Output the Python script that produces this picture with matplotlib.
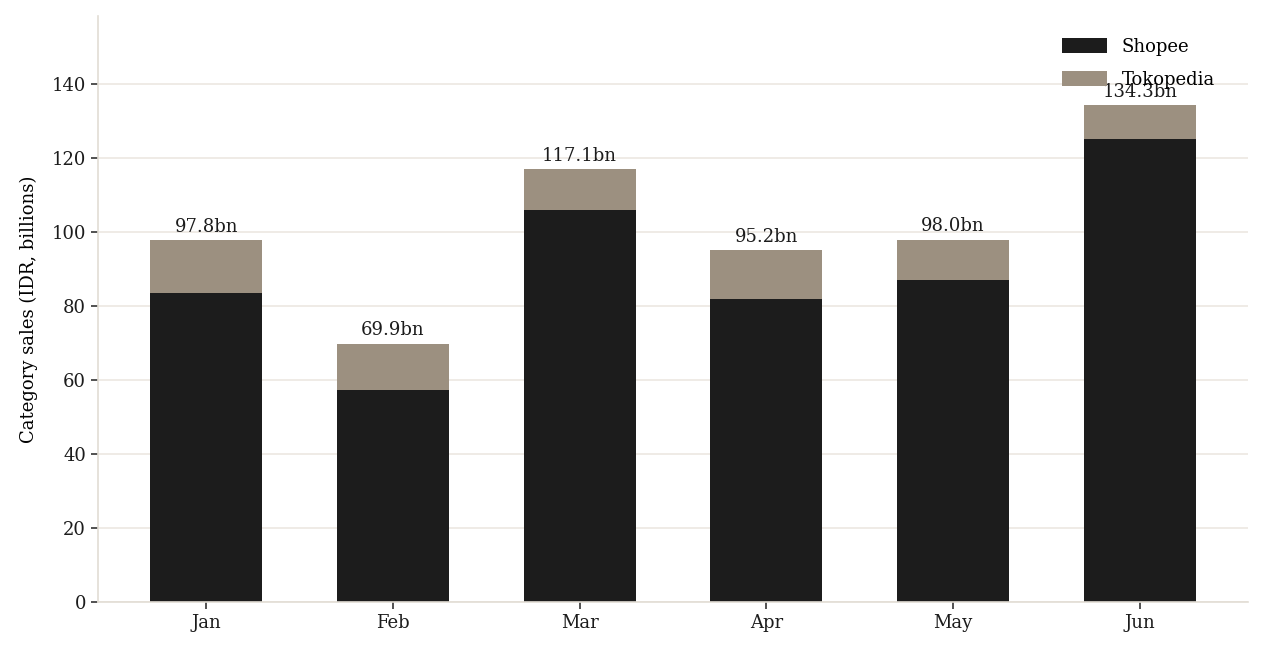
import matplotlib
matplotlib.use("Agg")
import matplotlib.pyplot as plt
import numpy as np

months = ["Jan", "Feb", "Mar", "Apr", "May", "Jun"]
shopee = [83.7, 57.4, 106.1, 82.0, 87.2, 125.1]
tokopedia = [14.1, 12.5, 11.0, 13.2, 10.8, 9.2]
totals = [97.8, 69.9, 117.1, 95.2, 98.0, 134.3]

plt.rcParams["font.family"] = ["DejaVu Serif"]
plt.rcParams["font.size"] = 13

fig, ax = plt.subplots(figsize=(12.64, 6.56), dpi=100)
fig.subplots_adjust(left=0.0775, right=0.9875, bottom=0.0823, top=0.9756)

x = np.arange(len(months))
ax.bar(x, shopee, width=0.6, color="#1c1c1c", label="Shopee")
ax.bar(x, tokopedia, width=0.6, bottom=shopee, color="#9c9080", label="Tokopedia")

for xi, t in zip(x, totals):
    ax.annotate(f"{t:.1f}bn", (xi, t), xytext=(0, 3), textcoords="offset points",
                ha="center", va="bottom", fontsize=13, color="#1c1c1c")

ax.set_xticks(x, labels=months)
ax.set_ylim(0, max(totals) * 1.18)
ax.set_yticks(range(0, 141, 20))
ax.set_ylabel("Category sales (IDR, billions)", fontsize=13, labelpad=10)

ax.grid(axis="y", color="#ece8e2", linewidth=1.2)
ax.set_axisbelow(True)
for side in ("top", "right"):
    ax.spines[side].set_visible(False)
for side in ("left", "bottom"):
    ax.spines[side].set_color("#e2ddd4")
    ax.spines[side].set_linewidth(1.2)
ax.tick_params(colors="#333333", labelcolor="#1c1c1c", length=5, width=1.2)

ax.legend(loc="upper right", bbox_to_anchor=(0.987, 0.994), frameon=False,
          fontsize=13, handlelength=2.5, handleheight=0.9, labelspacing=0.85,
          borderaxespad=0.6)

fig.savefig("out.png")
